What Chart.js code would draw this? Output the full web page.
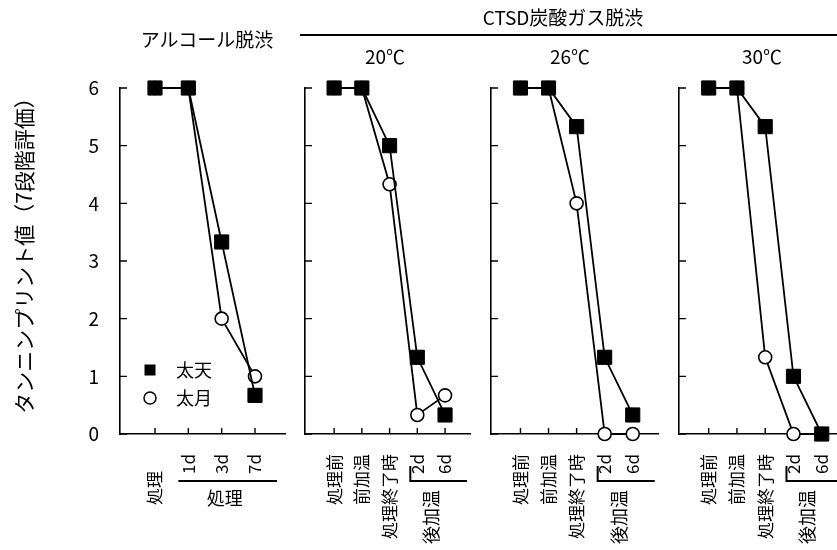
<!DOCTYPE html>
<html><head><meta charset="utf-8">
<script src="https://cdn.jsdelivr.net/npm/chart.js@4.4.1/dist/chart.umd.min.js"></script>
<style>
html,body{margin:0;padding:0;background:#fff;}
#wrap{position:relative;width:837px;height:550px;overflow:hidden;font-family:'Noto Sans CJK JP',sans-serif;color:#000;}
#wrap canvas{position:absolute;left:0;top:0;}
.t{position:absolute;white-space:nowrap;transform:translate(-50%,-50%);font-size:19px;line-height:1;}
.rule{position:absolute;left:300px;top:34px;width:537px;height:2px;background:#000;}
</style></head><body>
<div id="wrap">
<canvas id="c0" width="900" height="550"></canvas>
<canvas id="c1" width="900" height="550"></canvas>
<canvas id="c2" width="900" height="550"></canvas>
<canvas id="c3" width="900" height="550"></canvas>
<div class="t" id="h0" style="left:207px;top:38px"></div>
<div class="t" id="h1" style="left:563px;top:16px"></div>
<div class="rule"></div>
<div class="t" id="p1" style="left:385px;top:55px"></div>
<div class="t" id="p2" style="left:570px;top:55px"></div>
<div class="t" id="p3" style="left:762px;top:55px"></div>
</div>
<script>
// ---- data ----
const seriesNames = ['太天', '太月'];
const alcoholLabels = ['処理　', '1d', '3d', '7d'];
const ctsdLabels = ['処理前', '前加温', '処理終了時', '2d', '6d'];
const yTickValues = [0, 1, 2, 3, 4, 5, 6];
const alcTaiten = [6, 6, 3.33, 0.67];
const alcTaigetsu = [6, 6, 2, 1];
const c20Taiten = [6, 6, 5, 1.33, 0.33];
const c20Taigetsu = [6, 6, 4.33, 0.33, 0.67];
const c26Taiten = [6, 6, 5.33, 1.33, 0.33];
const c26Taigetsu = [6, 6, 4, 0, 0];
const c30Taiten = [6, 6, 5.33, 1, 0];
const c30Taigetsu = [6, 6, 1.33, 0, 0];
const groupTitles = ['アルコール脱渋', 'CTSD炭酸ガス脱渋'];
const panelTitles = ['20℃', '26℃', '30℃'];
const alcoholGroup = '処理';
const ctsdGroup = '後加温';
const yTitle = 'タンニンプリント値（7段階評価）';

document.getElementById('h0').textContent = groupTitles[0];
document.getElementById('h1').textContent = groupTitles[1];
panelTitles.forEach((t, i) => document.getElementById('p' + (i + 1)).textContent = t);

Chart.defaults.font.family = "'Noto Sans CJK JP', 'Noto Sans', sans-serif";
Chart.defaults.color = '#000';

const FONT = "'Noto Sans CJK JP', 'Noto Sans', sans-serif";
const CANVAS_W = 900;

const decor = {
  id: 'decor',
  beforeDatasetsDraw(chart, args, opts) {
    const {ctx, chartArea: a, scales: {x, y}} = chart;
    ctx.save();
    ctx.strokeStyle = '#000';
    ctx.lineWidth = 1.4;
    ctx.beginPath();
    y.ticks.forEach(t => { const py = y.getPixelForValue(t.value); ctx.moveTo(a.left, py); ctx.lineTo(a.left + 7, py); });
    x.ticks.forEach(t => { const px = x.getPixelForValue(t.value); ctx.moveTo(px, a.bottom); ctx.lineTo(px, a.bottom - 6); });
    ctx.stroke();
    ctx.restore();
  },
  afterDraw(chart, args, opts) {
    const {ctx, chartArea: a, scales: {x}} = chart;
    const g = opts.group;
    if (!g) return;
    const x1 = x.getPixelForValue(g.from), x2 = x.getPixelForValue(g.to);
    const ly = a.bottom + 47;
    ctx.save();
    ctx.fillStyle = '#000';
    ctx.strokeStyle = '#000';
    ctx.lineWidth = 2;
    ctx.beginPath();
    if (g.horizontal) {
      ctx.moveTo(x1 - 10, ly); ctx.lineTo(x2 + 22, ly);
      ctx.stroke();
      ctx.font = '18px ' + FONT;
      ctx.textAlign = 'center'; ctx.textBaseline = 'middle';
      ctx.fillText(g.label, (x1 + x2) / 2 + 3, ly + 17);
    } else {
      ctx.moveTo(x1 - 7, ly - 15); ctx.lineTo(x1 - 7, ly); ctx.lineTo(Math.min(x2 + 22, a.right), ly);
      ctx.stroke();
      ctx.font = '18px ' + FONT;
      ctx.translate((x1 + x2) / 2, ly + 9);
      ctx.rotate(-Math.PI / 2);
      ctx.textAlign = 'right'; ctx.textBaseline = 'middle';
      ctx.fillText(g.label, 0, 0);
    }
    ctx.restore();
    if (opts.legend) {
      const L = opts.legend;
      ctx.save();
      ctx.fillStyle = '#000'; ctx.strokeStyle = '#000'; ctx.lineWidth = 1.5;
      ctx.fillRect(L.x - 5.5, L.y - 5.5, 11, 11);
      ctx.beginPath(); ctx.arc(L.x, L.y + 28, 6, 0, Math.PI * 2);
      ctx.fillStyle = '#fff'; ctx.fill(); ctx.stroke();
      ctx.fillStyle = '#000';
      ctx.font = '18px ' + FONT;
      ctx.textAlign = 'left'; ctx.textBaseline = 'middle';
      ctx.fillText(chart.data.datasets[0].label, L.x + 26, L.y);
      ctx.fillText(chart.data.datasets[1].label, L.x + 26, L.y + 28);
      ctx.restore();
    }
  }
};

function ds(name, vals, filled) {
  return {
    label: name,
    data: vals.map((v, i) => ({x: i, y: v})),
    showLine: true,
    borderColor: '#000',
    borderWidth: 1.8,
    tension: 0,
    fill: false,
    clip: false,
    pointStyle: filled ? 'rect' : 'circle',
    pointRadius: filled ? 10 : 6.5,
    pointHoverRadius: filled ? 10 : 6.5,
    pointBackgroundColor: filled ? '#000' : '#fff',
    pointBorderColor: '#000',
    pointBorderWidth: filled ? 1 : 1.6
  };
}

function makePanel(id, p) {
  new Chart(document.getElementById(id), {
    type: 'scatter',
    data: {datasets: [ds(seriesNames[0], p.a, true), ds(seriesNames[1], p.b, false)]},
    options: {
      responsive: false,
      animation: false,
      devicePixelRatio: 1,
      layout: {padding: {top: 88, right: CANVAS_W - p.axisEnd, bottom: 0, left: 0}},
      plugins: {
        legend: {display: false},
        tooltip: {enabled: false},
        decor: {group: p.group, legend: p.legend}
      },
      scales: {
        x: {
          type: 'linear', min: p.xmin, max: p.xmax,
          afterBuildTicks: s => { s.ticks = p.labels.map((_, i) => ({value: i})); },
          afterFit: s => { s.height = 116; },
          grid: {display: false, drawTicks: false},
          border: {display: true, color: '#000', width: 1.6},
          ticks: {
            autoSkip: false, minRotation: 90, maxRotation: 90, padding: 20,
            color: '#000', font: {size: 17},
            callback: v => (p.labels[v] !== undefined ? p.labels[v] : '')
          }
        },
        y: {
          min: 0, max: 6,
          afterBuildTicks: s => { s.ticks = yTickValues.map(v => ({value: v})); },
          afterFit: s => { s.width = p.axisX; },
          grid: {display: false, drawTicks: false},
          border: {display: true, color: '#000', width: 1.6},
          ticks: {display: p.showY, padding: 21, color: '#000', font: {size: 19}},
          title: {display: p.showY, text: '　' + yTitle, color: '#000', font: {size: 21}, padding: {top: 11, bottom: 0}}
        }
      }
    },
    plugins: [decor]
  });
}

makePanel('c0', {labels: alcoholLabels, a: alcTaiten, b: alcTaigetsu, axisX: 120, axisEnd: 285, xmin: -1.05, xmax: 3.9, showY: true,
  group: {label: alcoholGroup, from: 1, to: 3, horizontal: true}, legend: {x: 150, y: 370}});
makePanel('c1', {labels: ctsdLabels, a: c20Taiten, b: c20Taigetsu, axisX: 305, axisEnd: 470, xmin: -1.05, xmax: 4.9, showY: false,
  group: {label: ctsdGroup, from: 3, to: 4, horizontal: false}});
makePanel('c2', {labels: ctsdLabels, a: c26Taiten, b: c26Taigetsu, axisX: 491, axisEnd: 658, xmin: -1.05, xmax: 4.9, showY: false,
  group: {label: ctsdGroup, from: 3, to: 4, horizontal: false}});
makePanel('c3', {labels: ctsdLabels, a: c30Taiten, b: c30Taigetsu, axisX: 679, axisEnd: 837, xmin: -1.05, xmax: 4.54, showY: false,
  group: {label: ctsdGroup, from: 3, to: 4, horizontal: false}});
</script>
</body></html>
